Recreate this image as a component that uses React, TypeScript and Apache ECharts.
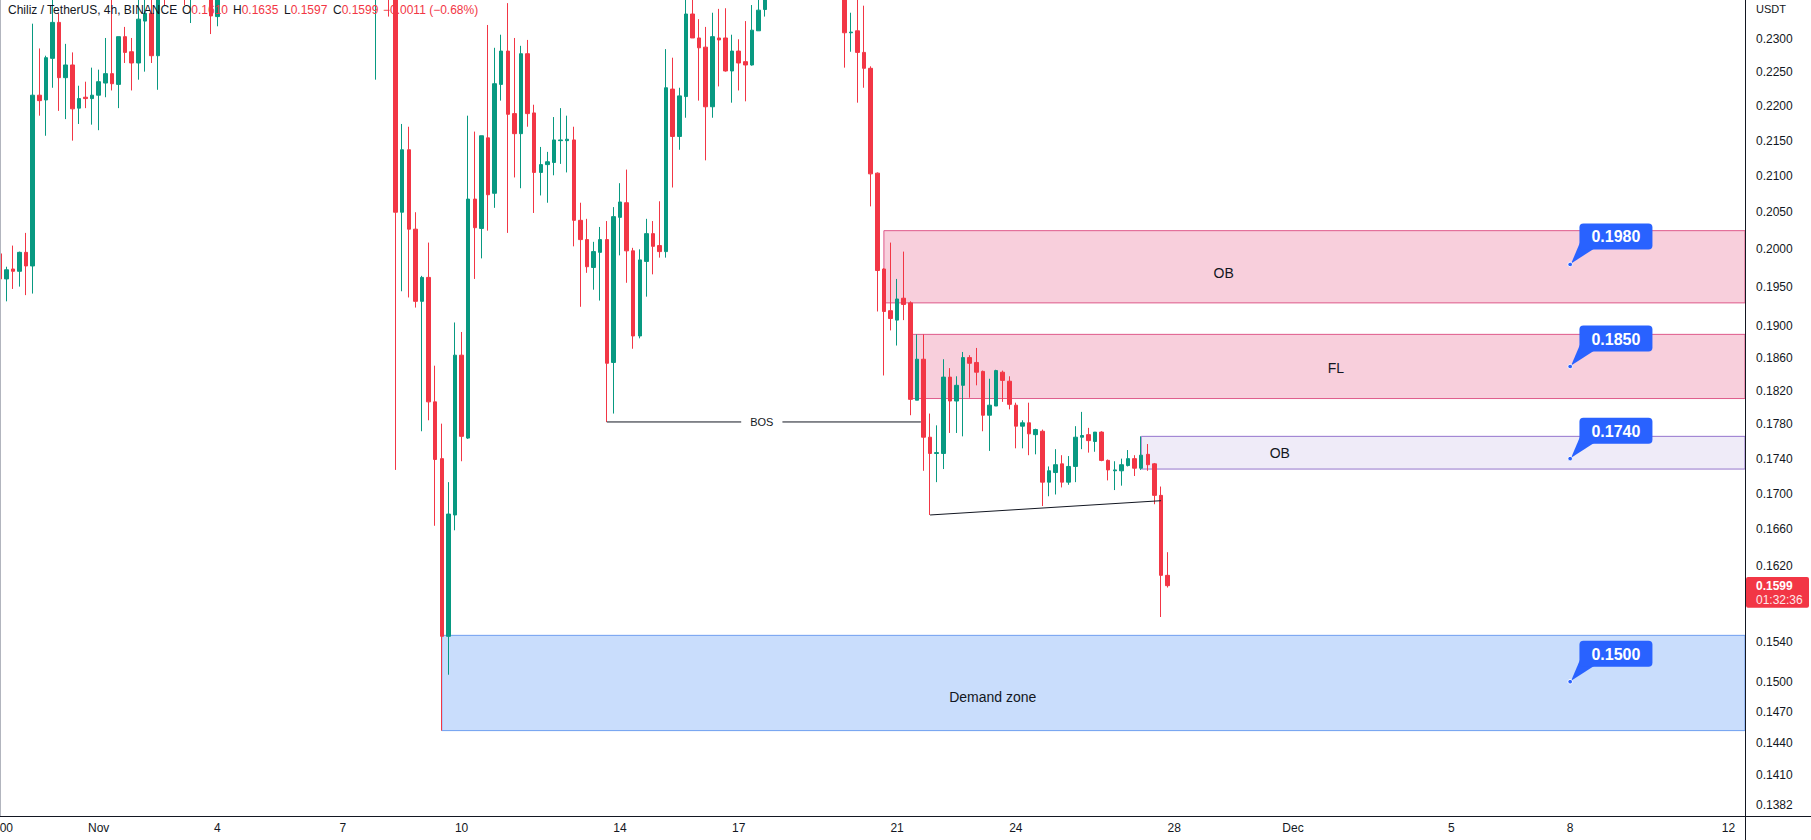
import React, { useEffect, useRef } from "react";
import * as echarts from "echarts";

// ---- 4h candles (index 0 = first visible bar) ----
const opens = [
  0.1994, 0.1961, 0.1974, 0.1971, 0.1996, 0.1978, 0.2216, 0.2209, 0.2271, 0.2326,
  0.2242, 0.2261, 0.2197, 0.2213, 0.2211, 0.2216, 0.2234, 0.2248, 0.2232, 0.2304,
  0.2281, 0.2264, 0.2328, 0.2340, 0.2275, 0.2385, 0.2366, 0.2409, 0.2393, 0.2374,
  0.2417, 0.2433, 0.2401, 0.2335, 0.2393, 0.2420, 0.2445, 0.2430, 0.2468, 0.2495,
  0.2480, 0.2520, 0.2560, 0.2545, 0.2585, 0.2610, 0.2580, 0.2595, 0.2560, 0.2540,
  0.2565, 0.2530, 0.2510, 0.2525, 0.2495, 0.2470, 0.2485, 0.2400, 0.2460, 0.2430,
  0.2393, 0.2050, 0.2137, 0.2027, 0.1932, 0.1963, 0.1807, 0.1740, 0.1546, 0.1676,
  0.1864, 0.1764, 0.2068, 0.2028, 0.2154, 0.2076, 0.2232, 0.2282, 0.2189, 0.2160,
  0.2278, 0.2190, 0.2105, 0.2116, 0.2119, 0.2150, 0.2150, 0.2151, 0.2039, 0.2013,
  0.1976, 0.1996, 0.2013, 0.1855, 0.2043, 0.2063, 0.1998, 0.1888, 0.1984, 0.2021,
  0.2005, 0.1997, 0.2225, 0.2156, 0.2214, 0.2339, 0.2302, 0.2288, 0.2199, 0.2302,
  0.2302, 0.2252, 0.2282, 0.2266, 0.2261, 0.2313, 0.2346, 0.2393, 0.2425, 0.2409,
  0.2441, 0.2417, 0.2449, 0.2425, 0.2409, 0.2433, 0.2401, 0.2385, 0.2401, 0.2310,
  0.2313, 0.2280, 0.2256, 0.2104, 0.1974, 0.1920, 0.1908, 0.1936, 0.1930, 0.1809,
  0.1859, 0.1765, 0.1746, 0.1746, 0.1837, 0.1808, 0.1827, 0.1861, 0.1855, 0.1844,
  0.1791, 0.1802, 0.1843, 0.1832, 0.1803, 0.1778, 0.1782, 0.1768, 0.1772, 0.1713,
  0.1724, 0.1734, 0.1713, 0.1731, 0.1765, 0.1768, 0.1760, 0.1771, 0.1738, 0.1726,
  0.1726, 0.1732, 0.1740, 0.1729, 0.1745, 0.1734, 0.1698, 0.1610,
];
const highs = [
  0.1999, 0.1977, 0.2005, 0.1997, 0.2022, 0.2324, 0.2286, 0.2275, 0.2366, 0.2340,
  0.2293, 0.2280, 0.2230, 0.2236, 0.2257, 0.2254, 0.2302, 0.2369, 0.2304, 0.2319,
  0.2302, 0.2369, 0.2374, 0.2369, 0.2401, 0.2409, 0.2425, 0.2433, 0.2417, 0.2441,
  0.2457, 0.2449, 0.2417, 0.2409, 0.2431, 0.2460, 0.2458, 0.2480, 0.2510, 0.2512,
  0.2538, 0.2578, 0.2590, 0.2610, 0.2640, 0.2625, 0.2612, 0.2605, 0.2575, 0.2580,
  0.2572, 0.2545, 0.2540, 0.2532, 0.2505, 0.2498, 0.2492, 0.2490, 0.2505, 0.2457,
  0.2425, 0.2174, 0.2170, 0.2050, 0.1965, 0.2009, 0.1851, 0.1781, 0.1713, 0.1905,
  0.1893, 0.2186, 0.2163, 0.2157, 0.2322, 0.2287, 0.2307, 0.2356, 0.2302, 0.2290,
  0.2299, 0.2202, 0.2141, 0.2134, 0.2184, 0.2197, 0.2186, 0.2170, 0.2063, 0.2041,
  0.2010, 0.2030, 0.2038, 0.2057, 0.2090, 0.2109, 0.2002, 0.2000, 0.2041, 0.2038,
  0.2065, 0.2285, 0.2272, 0.2227, 0.2377, 0.2374, 0.2331, 0.2319, 0.2341, 0.2347,
  0.2348, 0.2307, 0.2300, 0.2328, 0.2353, 0.2366, 0.2409, 0.2441, 0.2433, 0.2457,
  0.2473, 0.2473, 0.2457, 0.2441, 0.2449, 0.2441, 0.2417, 0.2417, 0.2425, 0.2341,
  0.2369, 0.2352, 0.2259, 0.2105, 0.1975, 0.2009, 0.1961, 0.1997, 0.1932, 0.1890,
  0.1890, 0.1793, 0.1779, 0.1859, 0.1848, 0.1838, 0.1868, 0.1864, 0.1873, 0.1845,
  0.1835, 0.1846, 0.1845, 0.1838, 0.1806, 0.1785, 0.1806, 0.1775, 0.1774, 0.1731,
  0.1751, 0.1744, 0.1743, 0.1778, 0.1795, 0.1776, 0.1771, 0.1772, 0.1739, 0.1737,
  0.1740, 0.1750, 0.1744, 0.1766, 0.1757, 0.1735, 0.1708, 0.1635,
];
const lows = [
  0.1957, 0.1932, 0.1948, 0.1951, 0.1940, 0.1942, 0.2186, 0.2157, 0.2227, 0.2193,
  0.2181, 0.2150, 0.2174, 0.2197, 0.2173, 0.2165, 0.2213, 0.2223, 0.2197, 0.2264,
  0.2223, 0.2239, 0.2251, 0.2264, 0.2224, 0.2353, 0.2364, 0.2366, 0.2353, 0.2325,
  0.2377, 0.2369, 0.2308, 0.2320, 0.2380, 0.2410, 0.2418, 0.2422, 0.2455, 0.2470,
  0.2474, 0.2510, 0.2530, 0.2538, 0.2570, 0.2560, 0.2565, 0.2545, 0.2520, 0.2528,
  0.2515, 0.2495, 0.2490, 0.2480, 0.2450, 0.2440, 0.2385, 0.2239, 0.2370, 0.2335,
  0.1727, 0.1945, 0.1937, 0.1924, 0.1772, 0.1785, 0.1664, 0.1452, 0.1507, 0.1659,
  0.1737, 0.1763, 0.1961, 0.1988, 0.2025, 0.2056, 0.2208, 0.2022, 0.2098, 0.2083,
  0.2170, 0.2049, 0.2073, 0.2063, 0.2101, 0.2117, 0.2105, 0.2004, 0.1925, 0.1969,
  0.1947, 0.1933, 0.1783, 0.1793, 0.1992, 0.1956, 0.1872, 0.1885, 0.1938, 0.1967,
  0.1989, 0.1989, 0.2084, 0.2137, 0.2183, 0.2302, 0.2208, 0.2122, 0.2183, 0.2229,
  0.2251, 0.2205, 0.2223, 0.2207, 0.2260, 0.2313, 0.2335, 0.2377, 0.2377, 0.2385,
  0.2377, 0.2393, 0.2385, 0.2374, 0.2377, 0.2369, 0.2367, 0.2366, 0.2257, 0.2281,
  0.2205, 0.2227, 0.2058, 0.1919, 0.1839, 0.1895, 0.1876, 0.1908, 0.1791, 0.1809,
  0.1726, 0.1676, 0.1713, 0.1728, 0.1770, 0.1770, 0.1766, 0.1812, 0.1827, 0.1772,
  0.1749, 0.1802, 0.1807, 0.1798, 0.1752, 0.1752, 0.1744, 0.1745, 0.1686, 0.1697,
  0.1699, 0.1707, 0.1710, 0.1713, 0.1751, 0.1747, 0.1748, 0.1737, 0.1715, 0.1704,
  0.1709, 0.1731, 0.1720, 0.1727, 0.1726, 0.1688, 0.1566, 0.1597,
];
const closes = [
  0.1961, 0.1973, 0.1971, 0.1996, 0.1978, 0.2216, 0.2208, 0.2272, 0.2326, 0.2242,
  0.2261, 0.2196, 0.2211, 0.2211, 0.2216, 0.2236, 0.2248, 0.2233, 0.2304, 0.2280,
  0.2264, 0.2331, 0.2340, 0.2275, 0.2385, 0.2366, 0.2409, 0.2393, 0.2374, 0.2417,
  0.2433, 0.2401, 0.2336, 0.2393, 0.2420, 0.2445, 0.2430, 0.2468, 0.2495, 0.2480,
  0.2520, 0.2560, 0.2545, 0.2585, 0.2610, 0.2580, 0.2595, 0.2560, 0.2540, 0.2565,
  0.2530, 0.2510, 0.2525, 0.2495, 0.2470, 0.2485, 0.2400, 0.2460, 0.2430, 0.2393,
  0.2050, 0.2137, 0.2027, 0.1932, 0.1963, 0.1807, 0.1739, 0.1546, 0.1677, 0.1864,
  0.1766, 0.2068, 0.2029, 0.2157, 0.2074, 0.2233, 0.2282, 0.2188, 0.2160, 0.2278,
  0.2189, 0.2105, 0.2116, 0.2120, 0.2151, 0.2151, 0.2152, 0.2039, 0.2013, 0.1977,
  0.1997, 0.2013, 0.1854, 0.2044, 0.2064, 0.1998, 0.1888, 0.1986, 0.2021, 0.2004,
  0.1997, 0.2227, 0.2156, 0.2215, 0.2339, 0.2302, 0.2287, 0.2199, 0.2304, 0.2299,
  0.2252, 0.2282, 0.2264, 0.2261, 0.2314, 0.2345, 0.2393, 0.2425, 0.2409, 0.2441,
  0.2417, 0.2449, 0.2425, 0.2409, 0.2433, 0.2401, 0.2385, 0.2401, 0.2310, 0.2311,
  0.2280, 0.2256, 0.2103, 0.1972, 0.1919, 0.1910, 0.1935, 0.1928, 0.1810, 0.1859,
  0.1765, 0.1746, 0.1747, 0.1837, 0.1808, 0.1827, 0.1861, 0.1854, 0.1843, 0.1791,
  0.1803, 0.1845, 0.1833, 0.1804, 0.1778, 0.1782, 0.1769, 0.1774, 0.1713, 0.1726,
  0.1733, 0.1713, 0.1731, 0.1765, 0.1767, 0.1761, 0.1771, 0.1738, 0.1727, 0.1727,
  0.1733, 0.1740, 0.1729, 0.1744, 0.1733, 0.1698, 0.1610, 0.1599,
];

const categoryCount = 265;
const xTickIndex = [1, 15, 33, 52, 70, 94, 112, 136, 154, 178, 196, 220, 238, 262];
const xTickLabels = ["00", "Nov", "4", "7", "10", "14", "17", "21", "24", "28", "Dec", "5", "8", "12"];
const yTicks = [
  0.23, 0.225, 0.22, 0.215, 0.21, 0.205, 0.2, 0.195, 0.19, 0.186, 0.182, 0.178,
  0.174, 0.17, 0.166, 0.162, 0.154, 0.15, 0.147, 0.144, 0.141, 0.1382,
];
const yMinPrice = 0.13718;
const yMaxPrice = 0.23609;

// zones (rectangles extended to the right)
const zoneLabels = ["OB", "FL", "OB", "Demand zone"];
const zoneStart = [134, 138, 173, 67];
const zoneEnd = [237, 267, 215, 234];
const zoneTop = [0.2025, 0.189, 0.1766, 0.1547];
const zoneBottom = [0.193, 0.1811, 0.1728, 0.1452];

// BOS + trend line
const bosStart = 92;
const bosEnd = 139.6;
const bosPrice = 0.1783;
const trendStart = 141;
const trendEnd = 176;
const trendStartPrice = 0.1676;
const trendEndPrice = 0.1692;

// price callouts
const calloutIndex = 238;
const calloutPrices = [0.198, 0.185, 0.174, 0.15];

const countdown = "01:32:36";

const FONT = "'Liberation Sans', Arial, Helvetica, sans-serif";
const TEXT = "#131722";
const UP = "#089981";
const DOWN = "#f23645";

const zoneFill = ["#f8cfdc", "#f8cfdc", "#efebf8", "#c9ddfc"];
const zoneStroke = ["#de5a8a", "#de5a8a", "#9575cd", "#6f9ff0"];
const zoneLabelOffset = [6, 2, 0, 14];

export default function App() {
  const ref = useRef<HTMLDivElement>(null);

  useEffect(() => {
    document.body.style.margin = "0";
    const chart = echarts.init(ref.current as HTMLDivElement, undefined, { renderer: "svg" });
    const L = Math.log;
    const cats = Array.from({ length: categoryCount }, (_, i) => String(i));
    const candleData = opens.map((o, i) => [L(o), L(closes[i]), L(lows[i]), L(highs[i])]);

    const xAt = (api: any, v: number, yv: number) => {
      const f = Math.floor(v);
      const c = api.coord([f, yv]);
      const bw = api.size([1, 0])[0];
      return [c[0] + (v - f) * bw, c[1]];
    };

    const last = closes.length - 1;
    const chg = closes[last] - closes[last - 1];
    const pct = (chg / closes[last - 1]) * 100;
    const sgn = (v: number) => (v < 0 ? "\u2212" : "+");
    const headerParts = [
      { k: "O", v: opens[last].toFixed(4), x: 182 },
      { k: "H", v: highs[last].toFixed(4), x: 233 },
      { k: "L", v: lows[last].toFixed(4), x: 284 },
      { k: "C", v: closes[last].toFixed(4), x: 333 },
      {
        k: "",
        v: `${sgn(chg)}${Math.abs(chg).toFixed(4)} (${sgn(chg)}${Math.abs(pct).toFixed(2)}%)`,
        x: 383,
      },
    ];

    const option: any = {
      animation: false,
      backgroundColor: "#ffffff",
      grid: {
        left: -3.6,
        top: 0,
        width: 1748.6,
        height: 816,
        containLabel: false,
        outerBoundsMode: "none",
      },
      xAxis: {
        type: "category",
        data: cats,
        boundaryGap: true,
        axisLine: { show: false },
        axisTick: { show: false },
        splitLine: { show: false },
        axisLabel: {
          interval: (i: number) => xTickIndex.indexOf(i) >= 0,
          formatter: (v: string) => {
            const k = xTickIndex.indexOf(Number(v));
            return k >= 0 ? xTickLabels[k] : "";
          },
          margin: 6,
          color: TEXT,
          fontSize: 12,
          fontFamily: FONT,
        },
      },
      yAxis: {
        type: "value",
        position: "right",
        min: L(yMinPrice),
        max: L(yMaxPrice),
        axisLine: { show: false },
        axisTick: { show: false },
        splitLine: { show: false },
        axisLabel: {
          customValues: yTicks.map((t) => L(t)),
          formatter: (v: number) => Math.exp(v).toFixed(4),
          margin: 11,
          align: "left",
          color: TEXT,
          fontSize: 12,
          fontFamily: FONT,
        },
      },
      series: [
        {
          type: "custom",
          name: "zones",
          silent: true,
          clip: false,
          z: 1,
          encode: { x: 0, y: 1 },
          data: zoneStart.map((s, i) => [s, L(zoneTop[i]), L(zoneBottom[i]), zoneEnd[i], i]),
          renderItem: (params: any, api: any) => {
            const i = api.value(4);
            const s = api.value(0);
            const tl = api.coord([s, api.value(1)]);
            const br = api.coord([s, api.value(2)]);
            const cs = params.coordSys;
            const right = cs.x + cs.width;
            const mid = xAt(api, (s + api.value(3)) / 2, api.value(1));
            return {
              type: "group",
              children: [
                {
                  type: "rect",
                  shape: { x: tl[0], y: tl[1], width: right - tl[0], height: br[1] - tl[1] },
                  style: { fill: zoneFill[i], stroke: zoneStroke[i], lineWidth: 1 },
                },
                {
                  type: "text",
                  x: mid[0],
                  y: (tl[1] + br[1]) / 2 + zoneLabelOffset[i],
                  style: {
                    text: zoneLabels[i],
                    fill: TEXT,
                    fontSize: 14,
                    fontFamily: FONT,
                    align: "center",
                    verticalAlign: "middle",
                  },
                },
              ],
            };
          },
        },
        {
          type: "candlestick",
          name: "CHZUSDT",
          data: candleData,
          barWidth: 4,
          clip: true,
          z: 3,
          itemStyle: {
            color: UP,
            color0: DOWN,
            borderColor: UP,
            borderColor0: DOWN,
            borderWidth: 1,
          },
        },
        {
          type: "custom",
          name: "lines",
          silent: true,
          clip: false,
          z: 4,
          encode: { x: 0, y: 1 },
          data: [
            [bosStart, L(bosPrice), bosEnd, L(bosPrice), 0],
            [trendStart, L(trendStartPrice), trendEnd, L(trendEndPrice), 1],
          ],
          renderItem: (_params: any, api: any) => {
            const p1 = xAt(api, api.value(0), api.value(1));
            const p2 = xAt(api, api.value(2), api.value(3));
            const children: any[] = [
              {
                type: "line",
                shape: { x1: p1[0], y1: p1[1], x2: p2[0], y2: p2[1] },
                style: { stroke: TEXT, lineWidth: 1 },
              },
            ];
            if (api.value(4) === 0) {
              children.push({
                type: "text",
                x: (p1[0] + p2[0]) / 2 - 2,
                y: p1[1],
                style: {
                  text: "BOS",
                  fill: TEXT,
                  fontSize: 11,
                  fontFamily: FONT,
                  align: "center",
                  verticalAlign: "middle",
                  backgroundColor: "#ffffff",
                  padding: [1, 9],
                },
              });
            }
            return { type: "group", children };
          },
        },
        {
          type: "custom",
          name: "callouts",
          silent: true,
          clip: false,
          z: 6,
          encode: { x: 0, y: 1 },
          data: calloutPrices.map((p) => [calloutIndex, L(p), p]),
          renderItem: (_params: any, api: any) => {
            const tip = api.coord([api.value(0), api.value(1)]);
            const rx = tip[0] + 9.3;
            const ry = tip[1] - 41;
            const w = 73;
            const h = 26;
            return {
              type: "group",
              children: [
                {
                  type: "polygon",
                  shape: {
                    points: [
                      [rx + 1, ry + 18],
                      [rx + 15, ry + 25],
                      [tip[0] + 1, tip[1] - 1],
                    ],
                  },
                  style: { fill: "#2962ff" },
                },
                {
                  type: "rect",
                  shape: { x: rx, y: ry, width: w, height: h, r: 4 },
                  style: { fill: "#2962ff" },
                },
                {
                  type: "text",
                  x: rx + w / 2,
                  y: ry + h / 2 + 0.5,
                  style: {
                    text: Number(api.value(2)).toFixed(4),
                    fill: "#ffffff",
                    fontSize: 16,
                    fontWeight: "bold",
                    fontFamily: FONT,
                    align: "center",
                    verticalAlign: "middle",
                  },
                },
                {
                  type: "circle",
                  shape: { cx: tip[0], cy: tip[1], r: 2.3 },
                  style: { fill: "#2962ff", stroke: "#ffffff", lineWidth: 1 },
                },
              ],
            };
          },
        },
        {
          type: "custom",
          name: "lastPrice",
          silent: true,
          clip: false,
          z: 7,
          encode: { x: 0, y: 1 },
          data: [[last, L(closes[last]), closes[last]]],
          renderItem: (params: any, api: any) => {
            const pt = api.coord([api.value(0), api.value(1)]);
            const cs = params.coordSys;
            const x0 = cs.x + cs.width + 1;
            return {
              type: "group",
              children: [
                {
                  type: "rect",
                  shape: { x: x0, y: pt[1] - 8.7, width: 63, height: 30.7, r: 2 },
                  style: { fill: DOWN },
                },
                {
                  type: "text",
                  x: x0 + 10,
                  y: pt[1],
                  style: {
                    text: Number(api.value(2)).toFixed(4),
                    fill: "#ffffff",
                    fontSize: 12,
                    fontWeight: "bold",
                    fontFamily: FONT,
                    align: "left",
                    verticalAlign: "middle",
                  },
                },
                {
                  type: "text",
                  x: x0 + 10,
                  y: pt[1] + 14.5,
                  style: {
                    text: countdown,
                    fill: "#fde8ea",
                    fontSize: 12,
                    fontFamily: FONT,
                    align: "left",
                    verticalAlign: "middle",
                  },
                },
              ],
            };
          },
        },
      ],
      graphic: [
        {
          type: "line",
          z: 100,
          shape: { x1: 0.5, y1: 0, x2: 0.5, y2: 816 },
          style: { stroke: "#b2b5be", lineWidth: 1 },
        },
        {
          type: "line",
          z: 100,
          shape: { x1: 0, y1: 816.5, x2: 1811, y2: 816.5 },
          style: { stroke: TEXT, lineWidth: 1 },
        },
        {
          type: "line",
          z: 100,
          shape: { x1: 1745.5, y1: 0, x2: 1745.5, y2: 840 },
          style: { stroke: TEXT, lineWidth: 1 },
        },
        {
          type: "text",
          z: 100,
          x: 1756,
          y: 9,
          style: { text: "USDT", fill: TEXT, fontSize: 11, fontFamily: FONT, verticalAlign: "middle" },
        },
        {
          type: "text",
          z: 100,
          x: 8,
          y: 10,
          style: {
            text: "Chiliz / TetherUS, 4h, BINANCE",
            fill: TEXT,
            fontSize: 12,
            fontFamily: FONT,
            verticalAlign: "middle",
          },
        },
        ...headerParts.map((p) => ({
          type: "text",
          z: 100,
          x: p.x,
          y: 10,
          style: {
            text: p.k ? `{k|${p.k}}{v|${p.v}}` : `{v|${p.v}}`,
            fontSize: 12,
            fontFamily: FONT,
            verticalAlign: "middle",
            rich: {
              k: { fill: TEXT, fontSize: 12, fontFamily: FONT },
              v: { fill: DOWN, fontSize: 12, fontFamily: FONT },
            },
          },
        })),
      ],
    };

    chart.setOption(option);
    return () => chart.dispose();
  }, []);

  return (
    <div
      ref={ref}
      style={{ position: "fixed", left: 0, top: 0, width: 1811, height: 840, background: "#ffffff" }}
    />
  );
}
